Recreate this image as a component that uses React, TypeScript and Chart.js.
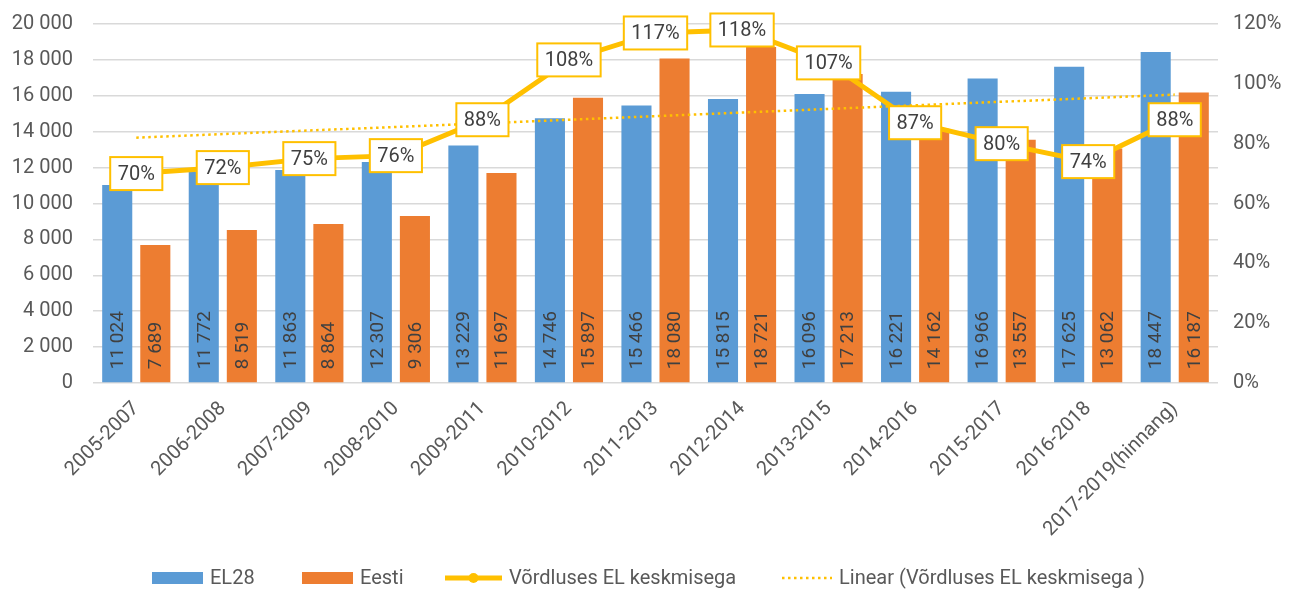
import React, { useEffect, useRef } from "react";
import { Chart, registerables } from "chart.js";

Chart.register(...registerables);

const categories = [
  "2005-2007", "2006-2008", "2007-2009", "2008-2010", "2009-2011", "2010-2012",
  "2011-2013", "2012-2014", "2013-2015", "2014-2016", "2015-2017", "2016-2018",
  "2017-2019(hinnang)",
];
const el28 = [11024, 11772, 11863, 12307, 13229, 14746, 15466, 15815, 16096, 16221, 16966, 17625, 18447];
const eesti = [7689, 8519, 8864, 9306, 11697, 15897, 18080, 18721, 17213, 14162, 13557, 13062, 16187];
const ratio = [70, 72, 75, 76, 88, 108, 117, 118, 107, 87, 80, 74, 88];
// Trend line end values (first and last category)
const trendEnds = [82.0, 96.4];
const leftTicks = [0, 2000, 4000, 6000, 8000, 10000, 12000, 14000, 16000, 18000, 20000];
const rightTicks = [0, 20, 40, 60, 80, 100, 120];

const seriesNames = ["EL28", "Eesti", "Võrdluses EL keskmisega", "Linear (Võrdluses EL keskmisega )"];

const BLUE = "#5B9BD5";
const ORANGE = "#ED7D31";
const GOLD = "#FFC000";
const TEXT = "#404040";
const AXIS = "#595959";
const FONT = "Roboto";

const fmt = (n: number) => String(n).replace(/\B(?=(\d{3})+(?!\d))/g, " ");

const barLabelPlugin = {
  id: "barLabels",
  afterDatasetsDraw(chart: any) {
    const ctx = chart.ctx;
    ctx.save();
    ctx.font = `19px ${FONT}`;
    ctx.fillStyle = TEXT;
    ctx.textAlign = "left";
    ctx.textBaseline = "middle";
    [0, 1].forEach((di) => {
      const meta = chart.getDatasetMeta(di);
      meta.data.forEach((bar: any, i: number) => {
        const v = chart.data.datasets[di].data[i];
        ctx.save();
        ctx.translate(bar.x, bar.base - 13);
        ctx.rotate(-Math.PI / 2);
        ctx.fillText(fmt(v), 0, 1);
        ctx.restore();
      });
    });
    ctx.restore();
  },
};

const pctLabelPlugin = {
  id: "pctLabels",
  afterDatasetsDraw(chart: any) {
    const ctx = chart.ctx;
    ctx.save();
    ctx.font = `20px ${FONT}`;
    ctx.textAlign = "center";
    ctx.textBaseline = "middle";
    const meta = chart.getDatasetMeta(2);
    meta.data.forEach((pt: any, i: number) => {
      const txt = chart.data.datasets[2].data[i] + "%";
      const w = ctx.measureText(txt).width + 15;
      const h = 33;
      ctx.fillStyle = "#ffffff";
      ctx.fillRect(pt.x - w / 2, pt.y - h / 2, w, h);
      ctx.strokeStyle = GOLD;
      ctx.lineWidth = 2;
      ctx.strokeRect(pt.x - w / 2, pt.y - h / 2, w, h);
      ctx.fillStyle = TEXT;
      ctx.fillText(txt, pt.x, pt.y + 1);
    });
    ctx.restore();
  },
};

const legendPlugin = {
  id: "customLegend",
  afterDraw(chart: any) {
    const ctx = chart.ctx;
    const y = 578;
    const xs = [152, 302, 445, 782];
    const widths = [51, 51, 57, 50];
    ctx.save();
    ctx.font = `20px ${FONT}`;
    ctx.textBaseline = "middle";
    ctx.textAlign = "left";
    xs.forEach((x, i) => {
      const w = widths[i];
      if (i === 0 || i === 1) {
        ctx.fillStyle = i === 0 ? BLUE : ORANGE;
        ctx.fillRect(x, y - 6, w, 12);
      } else if (i === 2) {
        ctx.strokeStyle = GOLD;
        ctx.lineWidth = 5;
        ctx.beginPath();
        ctx.moveTo(x, y);
        ctx.lineTo(x + w, y);
        ctx.stroke();
        ctx.fillStyle = GOLD;
        ctx.beginPath();
        ctx.arc(x + w / 2, y, 5, 0, Math.PI * 2);
        ctx.fill();
      } else {
        ctx.strokeStyle = GOLD;
        ctx.lineWidth = 2.5;
        ctx.setLineDash([2.5, 3.5]);
        ctx.beginPath();
        ctx.moveTo(x, y);
        ctx.lineTo(x + w, y);
        ctx.stroke();
        ctx.setLineDash([]);
      }
      ctx.fillStyle = AXIS;
      ctx.fillText(seriesNames[i], x + w + 7, y + 1);
    });
    ctx.restore();
  },
};

export default function App() {
  const ref = useRef<HTMLCanvasElement>(null);
  useEffect(() => {
    if (!ref.current) return;
    const last = categories.length - 1;
    const trend = categories.map((_, i) => (i === 0 ? trendEnds[0] : i === last ? trendEnds[1] : null));
    const chart = new Chart(ref.current, {
      type: "bar",
      data: {
        labels: categories,
        datasets: [
          {
            type: "bar",
            label: seriesNames[0],
            data: el28,
            backgroundColor: BLUE,
            yAxisID: "y",
            categoryPercentage: 0.88,
            barPercentage: 0.79,
            order: 3,
          } as any,
          {
            type: "bar",
            label: seriesNames[1],
            data: eesti,
            backgroundColor: ORANGE,
            yAxisID: "y",
            categoryPercentage: 0.88,
            barPercentage: 0.79,
            order: 3,
          },
          {
            type: "line",
            label: seriesNames[2],
            data: ratio,
            borderColor: GOLD,
            backgroundColor: GOLD,
            borderWidth: 5,
            pointRadius: 0,
            tension: 0,
            yAxisID: "y1",
            order: 0,
          },
          {
            type: "line",
            label: seriesNames[3],
            data: trend,
            borderColor: GOLD,
            borderWidth: 2.5,
            borderDash: [2.5, 3.5],
            pointRadius: 0,
            spanGaps: true,
            yAxisID: "y1",
            order: 1,
          },
        ],
      },
      options: {
        responsive: false,
        animation: false,
        events: [],
        layout: { padding: { top: 24, left: 0, right: 0, bottom: 0 } },
        plugins: { legend: { display: false }, tooltip: { enabled: false } },
        scales: {
          x: {
            grid: { display: false, drawTicks: false },
            border: { display: false },
            ticks: {
              color: AXIS,
              font: { family: FONT, size: 20 },
              minRotation: 45,
              maxRotation: 45,
              padding: 14,
              autoSkip: false,
            },
            afterFit: (s: any) => {
              s.height = 207;
            },
          },
          y: {
            position: "left",
            min: 0,
            max: 20000,
            afterBuildTicks: (s: any) => {
              s.ticks = leftTicks.map((v) => ({ value: v }));
            },
            grid: { color: "#d9d9d9", lineWidth: 1.5, drawTicks: true, tickLength: 18, tickColor: "rgba(0,0,0,0)" },
            border: { display: false },
            ticks: {
              color: AXIS,
              font: { family: FONT, size: 20 },
              padding: 2,
              callback: (v: any) => fmt(Number(v)),
            },
            afterFit: (s: any) => {
              s.width = 93;
            },
          },
          y1: {
            position: "right",
            min: 0,
            max: 120,
            afterBuildTicks: (s: any) => {
              s.ticks = rightTicks.map((v) => ({ value: v }));
            },
            grid: { display: true, drawOnChartArea: false, color: "rgba(0,0,0,0)", drawTicks: true, tickLength: 13, tickColor: "rgba(0,0,0,0)" },
            border: { display: false },
            ticks: {
              color: AXIS,
              font: { family: FONT, size: 20 },
              padding: 2,
              callback: (v: any) => v + "%",
            },
            afterFit: (s: any) => {
              s.width = 78;
            },
          },
        },
      },
      plugins: [barLabelPlugin, pctLabelPlugin, legendPlugin],
    });
    return () => chart.destroy();
  }, []);
  return (
    <div style={{ position: "absolute", left: 0, top: 0, width: 1296, height: 590, background: "#fff" }}>
      <canvas ref={ref} width={1296} height={590} />
    </div>
  );
}
